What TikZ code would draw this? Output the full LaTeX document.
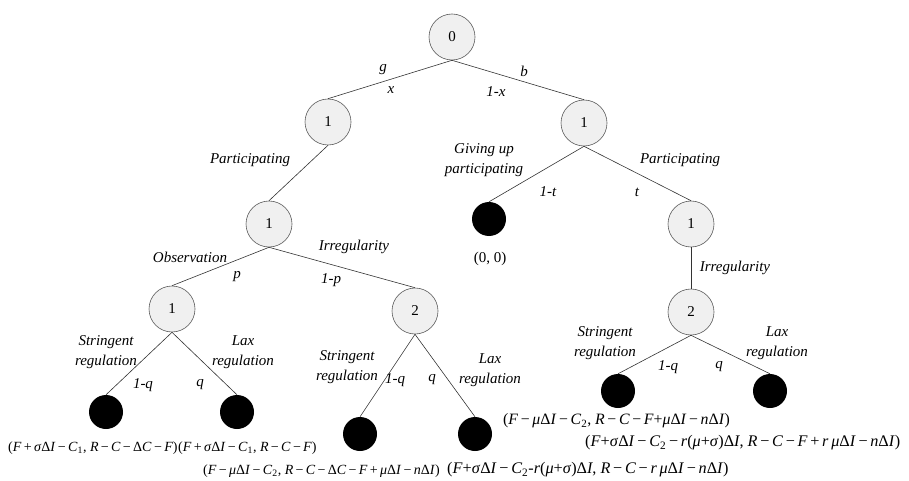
\documentclass[tikz,border=0pt]{standalone}
\usepackage{fontspec}
\setmainfont{Liberation Serif}
\newcommand\xit[1]{\textit{#1}}
\newcommand\xpl{\,+\,}
\newcommand\xmn{\,−\,}
\newcommand\xsub[1]{\textsubscript{#1}}
\begin{document}
\begin{tikzpicture}[x=1pt,y=-1pt,
  chance/.style={circle,draw=black!65,fill=gray!12,minimum size=46pt,inner sep=0pt,font=\fontsize{15}{17}\selectfont,line width=0.6pt},
  leaf/.style={circle,fill=black,minimum size=34pt,inner sep=0pt},
  lab/.style={font=\fontsize{15}{19.5}\selectfont\itshape,inner sep=0pt,align=center},
  pay/.style={font=\fontsize{14}{16}\selectfont,inner sep=0pt,anchor=west},
  paybig/.style={pay,font=\fontsize{16.2}{18}\selectfont},
  edge/.style={draw=black!80,line width=0.6pt}]
\useasboundingbox (0,0) rectangle (909,481);
% decision / chance nodes
\node[chance] (n0) at (452,37) {0};
\node[chance] (a1) at (328,122) {1};
\node[chance] (b1) at (584,123) {1};
\node[chance] (a2) at (269,224) {1};
\node[chance] (a3) at (172,309) {1};
\node[chance] (m3) at (415,311) {2};
\node[chance] (b2) at (691,224) {1};
\node[chance] (b3) at (691,312) {2};
% leaves
\node[leaf] (l1) at (106,412) {};
\node[leaf] (l2) at (237,412) {};
\node[leaf] (l3) at (360,434) {};
\node[leaf] (l4) at (475,434) {};
\node[leaf] (l0) at (489,219) {};
\node[leaf] (l5) at (618,391) {};
\node[leaf] (l6) at (770,391) {};
% connectors
\draw[edge] (n0.south) -- (a1.north);
\draw[edge] (n0.south) -- (b1.north);
\draw[edge] (a1.south) -- (a2.north);
\draw[edge] (a2.south) -- (a3.north);
\draw[edge] (a2.south) -- (m3.north);
\draw[edge] (a3.south) -- (l1.north);
\draw[edge] (a3.south) -- (l2.north);
\draw[edge] (m3.south) -- (l3.north);
\draw[edge] (m3.south) -- (l4.north);
\draw[edge] (b1.south) -- (l0.north);
\draw[edge] (b1.south) -- (b2.north);
\draw[edge] (b2.south) -- (b3.north);
\draw[edge] (b3.south) -- (l5.north);
\draw[edge] (b3.south) -- (l6.north);
% labels
\node[lab] (tg) at (383,70) {g};
\node[lab] (tx) at (391,90) {x};
\node[lab] (tb) at (524,71) {b};
\node[lab] (t1x) at (496,92) {1-x};
\node[lab] (tpa) at (250,160) {Participating};
\node[lab] (tgu) at (484,160) {Giving up\\participating};
\node[lab] (t1t) at (548,192) {1-t};
\node[lab] (tt) at (637,192) {t};
\node[lab] (tpb) at (680,160) {Participating};
\node[lab] (tob) at (190,257) {Observation};
\node[lab] (tir) at (354,247) {Irregularity};
\node[lab] (tp) at (237,277) {p};
\node[lab] (t1p) at (331,280) {1-p};
\node[lab] (tirb) at (735,268) {Irregularity};
\node[lab] (ts1) at (106,352) {Stringent\\regulation};
\node[lab] (tl1) at (243,352) {Lax\\regulation};
\node[lab] (tq1a) at (143,385) {1-q};
\node[lab] (tq1b) at (200,385) {q};
\node[lab] (ts2) at (347,367) {Stringent\\regulation};
\node[lab] (tl2) at (490,370) {Lax\\regulation};
\node[lab] (tq2a) at (395,380) {1-q};
\node[lab] (tq2b) at (432,380) {q};
\node[lab] (ts3) at (605,343) {Stringent\\regulation};
\node[lab] (tl3) at (777,343) {Lax\\regulation};
\node[lab] (tq3a) at (668,367) {1-q};
\node[lab] (tq3b) at (719,367) {q};
% payoffs
\node[font=\fontsize{15}{17}\selectfont,inner sep=0pt] (p0) at (490,259) {(0, 0)};
\node[pay] (p1) at (8,448) {(\xit{F}\xpl\xit{σ}Δ\xit{I}\xmn\xit{C}\xsub{1}, \xit{R}\xmn\xit{C}\xmn Δ\xit{C}\xmn\xit{F})};
\node[pay] (p2) at (178,448) {(\xit{F}\xpl\xit{σ}Δ\xit{I}\xmn\xit{C}\xsub{1}, \xit{R}\xmn\xit{C}\xmn\xit{F})};
\node[pay] (p3) at (203,471) {(\xit{F}\xmn\xit{μ}Δ\xit{I}\xmn\xit{C}\xsub{2}, \xit{R}\xmn\xit{C}\xmn Δ\xit{C}\xmn\xit{F}\xpl\xit{μ}Δ\xit{I}\xmn\xit{n}Δ\xit{I})};
\node[paybig] (p4) at (447,470) {(\xit{F}+\xit{σ}Δ\xit{I}\xmn\xit{C}\xsub{2}-\xit{r}(\xit{μ}+\xit{σ})Δ\xit{I}, \xit{R}\xmn\xit{C}\xmn\xit{r}\,\xit{μ}Δ\xit{I}\xmn\xit{n}Δ\xit{I})};
\node[pay,font=\fontsize{15.8}{18}\selectfont] (p5) at (503,421) {(\xit{F}\xmn\xit{μ}Δ\xit{I}\xmn\xit{C}\xsub{2}, \xit{R}\xmn\xit{C}\xmn\xit{F}+\xit{μ}Δ\xit{I}\xmn\xit{n}Δ\xit{I})};
\node[paybig] (p6) at (585,443) {(\xit{F}+\xit{σ}Δ\xit{I}\xmn\xit{C}\xsub{2}\xmn\xit{r}(\xit{μ}+\xit{σ})Δ\xit{I}, \xit{R}\xmn\xit{C}\xmn\xit{F}\xpl\xit{r}\,\xit{μ}Δ\xit{I}\xmn\xit{n}Δ\xit{I})};
\end{tikzpicture}
\end{document}
